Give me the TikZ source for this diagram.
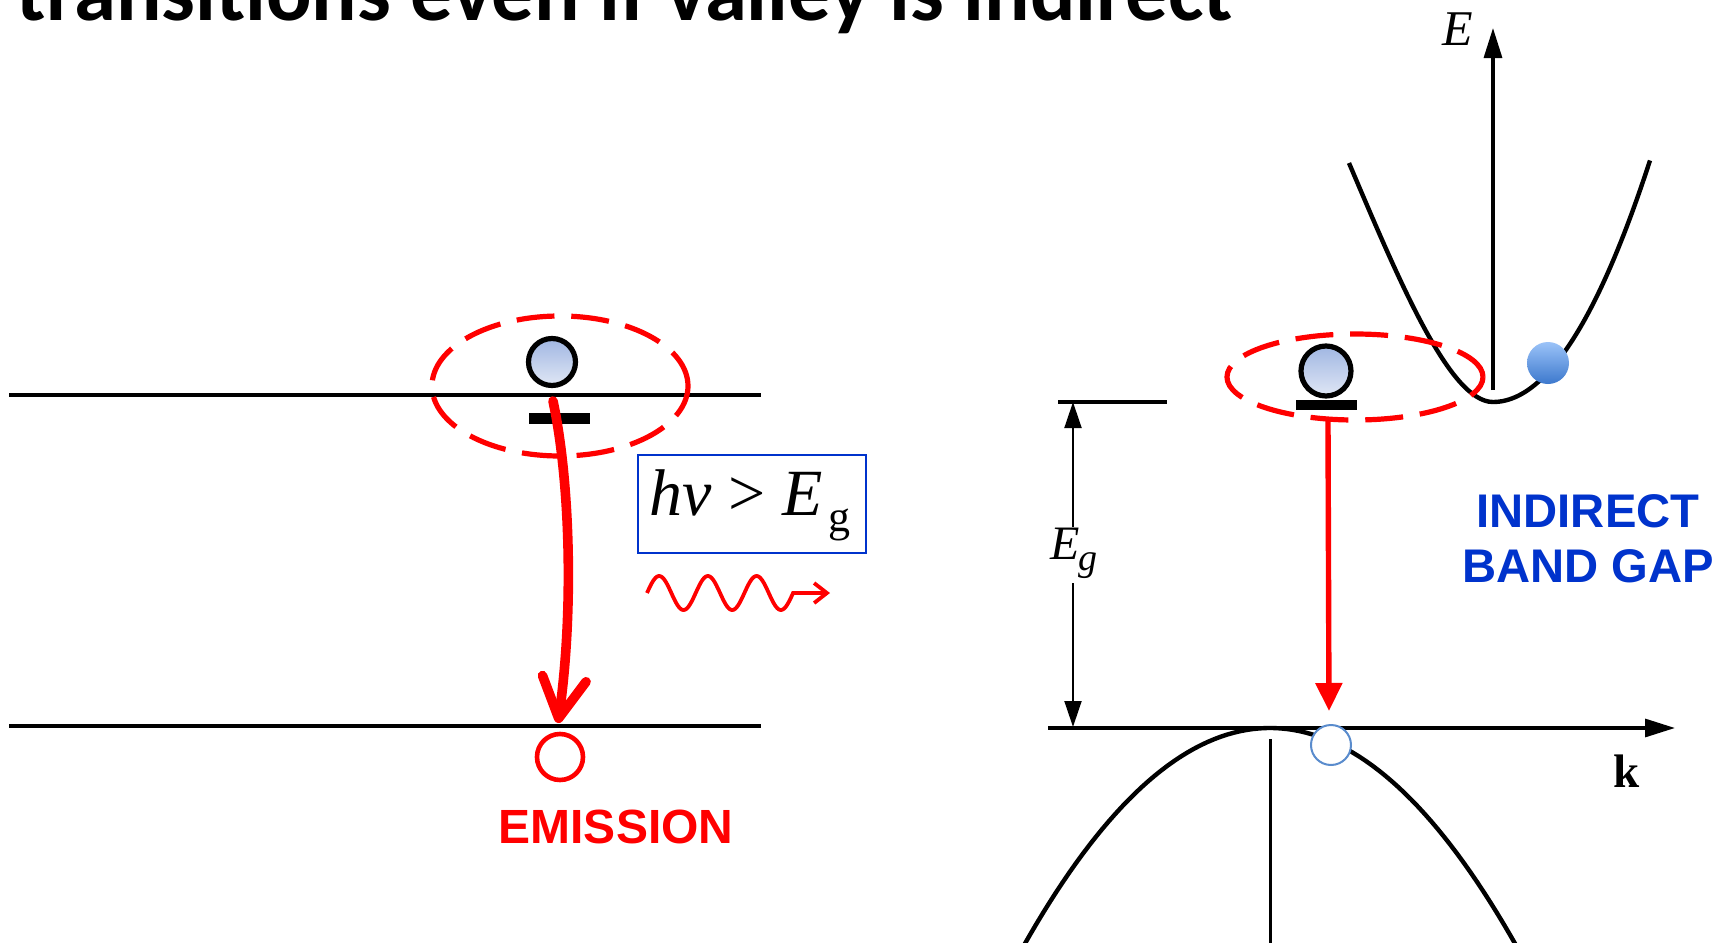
\documentclass[tikz,border=0pt]{standalone}
\usepackage{fontspec}
\setmainfont{Liberation Serif}
\newfontfamily\arialfont{Liberation Sans}
\newfontfamily\titlefont{Carlito}
\usetikzlibrary{arrows.meta,shapes.geometric}
\definecolor{emred}{RGB}{255,0,0}
\definecolor{boxblue}{RGB}{0,51,204}
\definecolor{txtblue}{RGB}{0,51,204}
\definecolor{eltop}{RGB}{160,182,226}
\definecolor{elbot}{RGB}{224,231,245}
\definecolor{balltop}{RGB}{155,195,248}
\definecolor{ballbot}{RGB}{60,120,205}
\definecolor{holeedge}{RGB}{90,140,205}
\tikzset{
  level/.style={line width=1.05pt,black},
  electron/.style={circle,draw=black,line width=1.3pt,top color=eltop,bottom color=elbot,inner sep=0pt},
  trapbar/.style={rectangle,fill=black,inner sep=0pt,minimum width=15.25pt},
  ring/.style={ellipse,draw=emred,line width=1.3pt,dash pattern=on 9.5pt off 4.2pt,inner sep=0pt},
  emarrow/.style={draw=emred,line width=2.4pt,line cap=round,-{Straight Barb[length=10pt,width=11pt,round]}},
  redarr/.style={draw=emred,line width=1.35pt,-{Triangle[length=7pt,width=6.5pt]}},
  wave/.style={draw=emred,line width=0.95pt,-{Straight Barb[length=3.2pt,width=5pt]}},
  axisline/.style={line width=0.8pt,-{Triangle[length=7.5pt,width=4.5pt]}},
  dimarr/.style={line width=0.65pt,-{Triangle[length=6.5pt,width=4.2pt]}},
  bandcurve/.style={line width=1.1pt,line join=round},
}
\begin{document}
\begin{tikzpicture}[x=0.25pt,y=-0.25pt]
\clip (0,0) rectangle (1729,943);
\fill[white] (0,0) rectangle (1729,943);

% title (cut off at the top, as in the reference)
\node[anchor=base west,inner sep=0pt,font=\titlefont\bfseries\fontsize{21.2}{24}\selectfont] (title) at (16,20) {transitions even if valley is indirect};

% ---------- left diagram ----------
\coordinate (cbL) at (9,395); \coordinate (cbR) at (761,395);
\coordinate (vbL) at (9,726); \coordinate (vbR) at (761,726);
\draw[level] (cbL) -- (cbR);
\draw[level] (vbL) -- (vbR);

\node[ring,minimum width=64pt,minimum height=35pt] (ring1) at (560,386) {};
\node[electron,minimum size=11.75pt] (e1) at (552,362) {};
\node[trapbar,minimum height=2.75pt] (b1) at (559.5,418.5) {};
\node[circle,draw=emred,line width=1.15pt,minimum size=11.5pt,inner sep=0pt] (h1) at (560,757) {};
\coordinate (a1s) at (553,401);
\coordinate (a1e) at (558,723);
\draw[emarrow] (a1s) .. controls (570,480) and (574,610) .. (a1e);

\node[anchor=base,inner sep=0pt,text=emred,font=\arialfont\bfseries\fontsize{12}{14}\selectfont] (emis) at (616,843) {EMISSION};

\node[draw=boxblue,line width=0.55pt,minimum width=57pt,minimum height=24.5pt,inner sep=0pt] (hvbox) at (752,504) {};
\node[anchor=base west,inner sep=0pt,font=\fontsize{16.5}{18}\selectfont] (hv) at (649,515)
  {\textit{hν} > \textit{E}\kern1.5pt\raisebox{-4.2pt}{\fontsize{11}{12}\selectfont g}};

\coordinate (w0) at (647,593);
\draw[wave] plot[domain=0:3,samples=121,smooth] ({647+48.7*\x},{593-17*sin(360*\x)}) -- (830,593);

% ---------- right diagram ----------
\coordinate (Ebot) at (1493,390); \coordinate (Etop) at (1493,28);
\draw[axisline] (Ebot) -- (Etop);
\node[font=\fontsize{12.5}{14}\selectfont] (Elab) at (1458,29) {\textit{E}};

\draw[bandcurve] (1349,163) .. controls (1400,283) and (1450,402) .. (1493,402)
  -- plot[domain=1493:1650,samples=50] (\x,{402-98*((\x-1493)/100)^2});

\node[circle,inner sep=0pt,minimum size=10.5pt,top color=balltop,bottom color=ballbot] (ball) at (1548,363) {};

% k axis and valence band
\coordinate (kL) at (1048,728); \coordinate (kR) at (1675,728);
\draw[axisline] (kL) -- (kR);
\node[font=\bfseries\fontsize{11.75}{14}\selectfont] (klab) at (1627,771) {k};
\draw[bandcurve] plot[domain=1010:1530,samples=80] (\x,{728+35.9*((\x-1270)/100)^2});
\draw[line width=0.75pt] (1270,739) -- (1270,950);

% Eg dimension
\coordinate (egT) at (1073,402); \coordinate (egB) at (1073,727);
\draw[line width=0.8pt] (1058,402) -- (1167,402);
\node[font=\fontsize{12}{14}\selectfont] (eg) at (1074,553) {\textit{E}\kern-0.5pt\raisebox{-2.8pt}{\fontsize{9.5}{10}\selectfont\textit{g}}};
\coordinate (egu) at (1073,527); \coordinate (egd) at (1073,583);
\draw[dimarr] (egu) -- (egT);
\draw[dimarr] (egd) -- (egB);

% trapped electron, ring, transition
\node[ring,minimum width=64pt,minimum height=21.5pt] (ring2) at (1355,377) {};
\node[electron,minimum size=12.5pt] (e2) at (1326,371) {};
\node[trapbar,minimum height=2.5pt] (b2) at (1326.5,405) {};
\node[circle,draw=holeedge,fill=white,line width=0.5pt,minimum size=10pt,inner sep=0pt] (h2) at (1331,745) {};
\coordinate (a2s) at (1328,421); \coordinate (a2e) at (1329,711);
\draw[redarr] (a2s) -- (a2e);

\node[anchor=base,inner sep=0pt,text=txtblue,font=\arialfont\bfseries\fontsize{11.8}{14}\selectfont] (ind1) at (1588,527) {INDIRECT};
\node[anchor=base,inner sep=0pt,text=txtblue,font=\arialfont\bfseries\fontsize{11.8}{14}\selectfont] (ind2) at (1588,582) {BAND GAP};
\end{tikzpicture}
\end{document}
